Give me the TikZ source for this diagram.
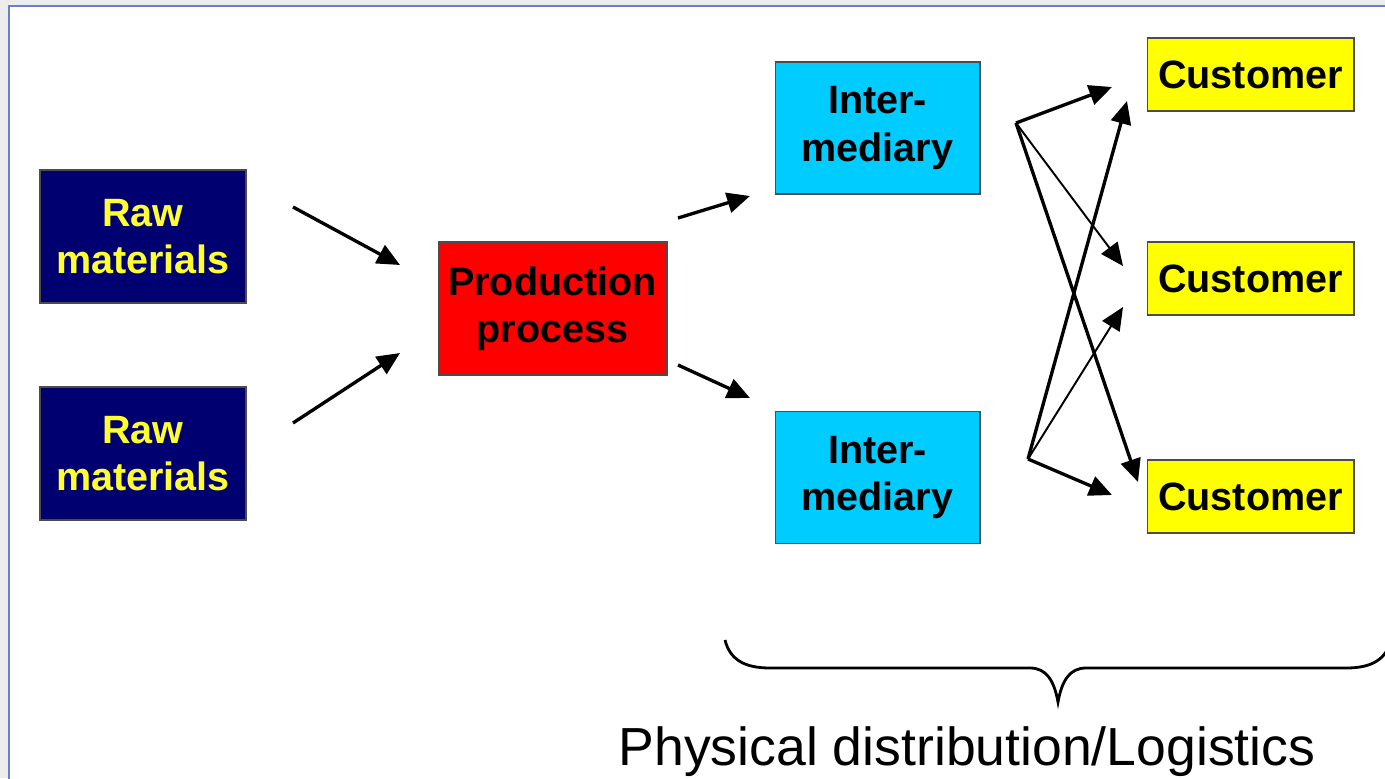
\documentclass[tikz,border=0pt]{standalone}
\usepackage{fontspec}
\setmainfont{Liberation Sans}
\usetikzlibrary{arrows.meta, positioning}

\definecolor{navybox}{HTML}{000070}
\definecolor{redbox}{HTML}{FF0000}
\definecolor{cyanbox}{HTML}{00CCFF}
\definecolor{yellowbox}{HTML}{FFFF00}
\definecolor{rawtext}{HTML}{FFFF30}
\definecolor{framegray}{HTML}{EDEDED}
\definecolor{frameblue}{HTML}{6A7FC8}

\begin{document}
\begin{tikzpicture}[x=0.02cm, y=-0.02cm,
    box/.style={draw=black!70, line width=0.6pt, inner sep=0pt, align=center,
        font=\fontsize{22.5}{27}\selectfont\bfseries},
    rawbox/.style={box, fill=navybox, text=rawtext, minimum width=4.12cm, minimum height=2.66cm},
    prodbox/.style={box, fill=redbox, text=black, minimum width=4.58cm, minimum height=2.66cm},
    interbox/.style={box, fill=cyanbox, text=black, minimum width=4.1cm, minimum height=2.64cm},
    custbox/.style={box, fill=yellowbox, text=black, minimum width=4.14cm, minimum height=1.46cm},
    flow/.style={-{Triangle[length=13pt, width=11.5pt]}, line width=1.9pt},
    thinflow/.style={-{Triangle[length=13pt, width=11.5pt]}, line width=1.1pt}]

    % Frame
    \useasboundingbox (0,0) rectangle (1385,778);
    \clip (0,0) rectangle (1385,778);
    \fill[framegray] (0,0) rectangle (1385,778);
    \fill[white] (9,6) rectangle (1400,800);
    \draw[frameblue, line width=1.7pt] (9,800) -- (9,6) -- (1400,6);

    % Boxes
    \node[rawbox] (raw1) at (143,236.5) {Raw\\materials};
    \node[rawbox] (raw2) at (143,453.5) {Raw\\materials};
    \node[prodbox] (prod) at (552.5,308.5) {Production\\process};
    \node[interbox] (inter1) at (877.5,128) {Inter-\\mediary};
    \node[interbox] (inter2) at (877.5,477.5) {Inter-\\mediary};
    \node[custbox] (cust1) at (1250.5,74.5) {Customer};
    \node[custbox] (cust2) at (1250.5,278.5) {Customer};
    \node[custbox] (cust3) at (1250.5,496.5) {Customer};

    % Arrow ends
    \coordinate (raw1out) at (293,207);
    \coordinate (raw2out) at (293,423);
    \coordinate (prodin1) at (400,265);
    \coordinate (prodin2) at (400,353);
    \coordinate (prodout1) at (678,218);
    \coordinate (prodout2) at (678,365);
    \coordinate (inter1in) at (750,196);
    \coordinate (inter2in) at (750,398);
    \coordinate (inter1out) at (1016,123);
    \coordinate (inter2out) at (1028,459);
    \coordinate (cust1in1) at (1112,87);
    \coordinate (cust1in2) at (1127,101);
    \coordinate (cust2in1) at (1123,266);
    \coordinate (cust2in2) at (1123,307);
    \coordinate (cust3in1) at (1138,482);
    \coordinate (cust3in2) at (1112,495);

    % Flows
    \draw[flow] (raw1out) -- (prodin1);
    \draw[flow] (raw2out) -- (prodin2);
    \draw[flow] (prodout1) -- (inter1in);
    \draw[flow] (prodout2) -- (inter2in);

    \draw[flow] (inter1out) -- (cust1in1);
    \draw[thinflow] (inter1out) -- (cust2in1);
    \draw[flow] (inter1out) -- (cust3in1);

    \draw[flow] (inter2out) -- (cust1in2);
    \draw[thinflow] (inter2out) -- (cust2in2);
    \draw[flow] (inter2out) -- (cust3in2);

    % Brace
    \draw[line width=1.6pt] (725,640) .. controls (730,660) and (745,668) .. (770,668)
        -- (1030,668) .. controls (1046,668) and (1054,680) .. (1058,702)
        .. controls (1062,680) and (1070,668) .. (1086,668)
        -- (1346,668) .. controls (1371,668) and (1386,660) .. (1391,640);

    % Label
    \node[anchor=base, font=\fontsize{30.5}{36}\selectfont] (logistics) at (967,765)
        {Physical distribution/Logistics};

\end{tikzpicture}
\end{document}
